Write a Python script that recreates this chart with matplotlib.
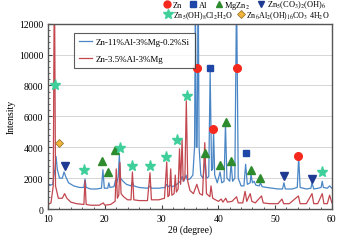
import matplotlib
matplotlib.use("Agg")
import matplotlib.pyplot as plt
from matplotlib.lines import Line2D
from matplotlib.ticker import MultipleLocator

plt.rcParams['font.family'] = 'serif'
plt.rcParams['font.serif'] = ['Liberation Serif', 'DejaVu Serif']
plt.rcParams['mathtext.fontset'] = 'stix'

# XRD pattern, Zn-11%Al-3%Mg-0.2%Si (vertices)
blue_x = [10.0, 10.8, 11.2, 11.4, 11.6, 12.0, 12.5, 12.8, 13.1, 13.6, 14.5, 15.5, 16.3, 16.5, 16.7,
          17.5, 18.5, 19.4, 19.65, 19.9, 20.5, 20.7, 20.9, 21.6, 21.9, 22.1, 22.35, 22.55, 22.75,
          23.2, 23.8, 24.6, 24.85, 25.1, 26.0, 27.5, 27.95, 28.2, 29.5, 30.6, 30.9, 31.2, 31.6,
          31.9, 32.5, 33.0, 33.3, 33.6, 33.9, 34.3, 34.5, 35.0, 35.5, 35.8, 35.95, 36.1, 36.25,
          36.45, 36.6, 36.9, 37.3, 37.65, 37.9, 38.3, 38.55, 38.8, 39.0, 39.15, 39.35, 39.8, 40.3,
          40.6, 41.0, 41.25, 41.5, 42.0, 42.25, 42.5, 42.9, 43.2, 43.5, 44.0, 44.5, 44.8, 45.1,
          45.6, 45.75, 46.0, 46.3, 46.6, 47.2, 47.4, 47.7, 48.5, 49.5, 50.5, 51.3, 51.55, 51.8,
          53.0, 53.9, 54.15, 54.4, 55.5, 56.3, 56.5, 56.8, 57.6, 58.1, 58.3, 58.5, 59.2, 59.6, 60.0]
blue_y = [1500, 1600, 2600, 3400, 2600, 2000, 2000, 2400, 2100, 1700, 1500, 1400, 1400, 1950, 1400,
          1300, 1300, 1350, 2550, 1350, 1350, 1700, 1400, 1450, 1900, 1700, 2100, 3500, 2000,
          1800, 1600, 1500, 1750, 1500, 1400, 1350, 1500, 1350, 1350, 1400, 1600, 1450, 1550,
          1450, 1550, 1700, 1800, 2100, 1800, 2200, 1900, 1950, 2200, 4000, 14000, 4000, 4000,
          14000, 4000, 2200, 2000, 3200, 2000, 2100, 8900, 2500, 2600, 5100, 2200, 1700, 2400,
          1700, 1800, 5500, 2000, 1800, 3000, 1800, 2000, 14000, 2000, 1500, 1500, 2900, 1600,
          1700, 2250, 1700, 1800, 1550, 1500, 1700, 1450, 1400, 1350, 1300, 1300, 1700, 1300,
          1300, 1400, 3350, 1400, 1300, 1350, 1700, 1300, 1350, 1400, 1800, 1400, 1350, 1500, 1350]

# XRD pattern, Zn-3.5%Al-3%Mg
red_x = [10.0, 10.5, 10.9, 11.1, 11.3, 11.8, 12.5, 12.9, 13.3, 14.0, 15.0, 16.3, 16.5, 16.7, 17.5,
         19.0, 19.7, 20.0, 21.0, 21.8, 22.0, 22.2, 22.45, 22.65, 22.85, 23.3, 24.0, 24.6, 24.85,
         25.1, 26.0, 27.5, 27.95, 28.2, 29.5, 30.5, 30.9, 31.1, 31.35, 31.6, 31.8, 32.2, 32.4,
         32.6, 32.9, 33.15, 33.35, 33.6, 33.8, 34.1, 34.35, 34.6, 35.0, 35.6, 36.2, 36.7, 37.2,
         37.6, 37.9, 38.5, 38.7, 39.0, 40.0, 40.5, 40.8, 41.3, 41.6, 42.4, 43.2, 43.5, 44.3,
         44.7, 45.0, 45.6, 45.9, 46.5, 47.6, 47.9, 49.0, 50.5, 51.2, 51.5, 52.5, 54.1, 54.4,
         55.5, 56.5, 56.8, 57.5, 58.3, 58.6, 59.2, 59.6, 60.0]
red_y = [300, 400, 1500, 16000, 1500, 700, 700, 1000, 700, 450, 350, 300, 1850, 300, 250,
         250, 400, 250, 300, 500, 2600, 700, 900, 3000, 1000, 800, 600, 600, 2400,
         600, 550, 550, 2350, 600, 600, 700, 3050, 800, 900, 2600, 900, 1000, 2200,
         1100, 1300, 3900, 1600, 4500, 1800, 2000, 7000, 1800, 1200, 1000, 1600, 1000, 900,
         4300, 1000, 800, 1500, 700, 500, 650, 450, 700, 450, 500, 800, 400, 400,
         1150, 500, 1000, 500, 400, 850, 400, 350, 350, 650, 350, 350, 850, 350,
         350, 1000, 350, 350, 1000, 350, 350, 900, 400]

# phase markers
zn_x, zn_y = [36.2, 39.1, 43.2, 54.1], [9100, 5200, 9100, 3450]
al_x, al_y = [38.6, 44.8], [9100, 3600]
mgzn2_x = [19.5, 20.6, 21.8, 37.6, 40.3, 41.3, 42.2, 45.8, 47.4]
mgzn2_y = [3100, 2400, 3800, 3650, 2850, 5650, 3100, 2500, 2000]
carb_x, carb_y = [12.9, 51.6, 56.5], [2800, 2130, 1940]
cl_x = [11.2, 16.4, 22.7, 24.8, 28.0, 30.8, 32.7, 34.4, 58.3]
cl_y = [8000, 2550, 3950, 2800, 2800, 3400, 4500, 7300, 2400]
ldh_x, ldh_y = [11.9], [4300]

blue_c = '#4a86c5'
red_c = '#c2474f'

fig = plt.figure(figsize=(3.39, 2.51), dpi=100)
ax = fig.add_axes([0.142, 0.163, 0.837, 0.739])

ax.plot(blue_x, blue_y, color=blue_c, lw=0.9, label='Zn-11%Al-3%Mg-0.2%Si')
ax.plot(red_x, red_y, color=red_c, lw=0.9, label='Zn-3.5%Al-3%Mg')

sym = {
    'zn': dict(marker='o', color='#f5281e', ms=5.5),
    'al': dict(marker='s', color='#1f47a8', ms=5),
    'mg': dict(marker='^', color='#2e8b2e', ms=5.5),
    'cb': dict(marker='v', color='#1f3a93', ms=5.5),
    'cl': dict(marker='*', color='#3ecf9a', ms=8),
    'ld': dict(marker='D', color='#f0b43c', ms=4.5, mec='#8a6a20', mew=0.5),
}
ax.plot(zn_x, zn_y, ls='none', **sym['zn'])
ax.plot(al_x, al_y, ls='none', **sym['al'])
ax.plot(mgzn2_x, mgzn2_y, ls='none', **sym['mg'])
ax.plot(carb_x, carb_y, ls='none', **sym['cb'])
ax.plot(cl_x, cl_y, ls='none', **sym['cl'])
ax.plot(ldh_x, ldh_y, ls='none', **sym['ld'])

ax.set_xlim(10, 60)
ax.set_ylim(0, 12000)
ax.xaxis.set_major_locator(MultipleLocator(10))
ax.xaxis.set_minor_locator(MultipleLocator(2))
ax.yaxis.set_major_locator(MultipleLocator(2000))
ax.yaxis.set_minor_locator(MultipleLocator(400))
ax.tick_params(which='both', direction='in', labelsize=7, color='#444444')
ax.tick_params(which='major', length=3)
ax.tick_params(which='minor', length=1.5)
ax.grid(axis='y', color='#d0d0d0', lw=0.6)
ax.set_axisbelow(True)
for s in ax.spines.values():
    s.set_color('#555555')
    s.set_linewidth(1.0)

ax.set_xlabel('2θ (degree)', fontsize=7, labelpad=1)
ax.set_ylabel('Intensity', fontsize=7, labelpad=2)

leg = ax.legend(loc='upper left', bbox_to_anchor=(0.075, 0.975), fontsize=6.5, frameon=True,
                fancybox=False, edgecolor='#333333', handlelength=1.4, handletextpad=0.4,
                borderpad=0.6, labelspacing=0.9)
leg.get_frame().set_linewidth(0.8)

def h(key, label, ms):
    kw = dict(sym[key])
    kw['ms'] = ms
    return Line2D([], [], ls='none', label=label, **kw)

row1 = [h('zn', 'Zn', 5), h('al', 'Al', 4.5), h('mg', 'MgZn$_2$', 5),
        h('cb', 'Zn$_5$(CO$_3$)$_2$(OH)$_6$', 5)]
row2 = [h('cl', 'Zn$_5$(OH)$_8$Cl$_2$H$_2$O', 7), h('ld', 'Zn$_6$Al$_2$(OH)$_{16}$CO$_3$ 4H$_2$O', 4)]
l1 = fig.legend(handles=row1, loc='center left', bbox_to_anchor=(0.485, 0.978), ncol=4,
                frameon=False, fontsize=6, handlelength=0.7, handletextpad=0.3,
                columnspacing=1.0, borderpad=0.0, borderaxespad=0.0)
l2 = fig.legend(handles=row2, loc='center left', bbox_to_anchor=(0.488, 0.937), ncol=2,
                frameon=False, fontsize=5.8, handlelength=0.7, handletextpad=0.3,
                columnspacing=0.6, borderpad=0.0, borderaxespad=0.0)

fig.savefig('out.png', dpi=100)
